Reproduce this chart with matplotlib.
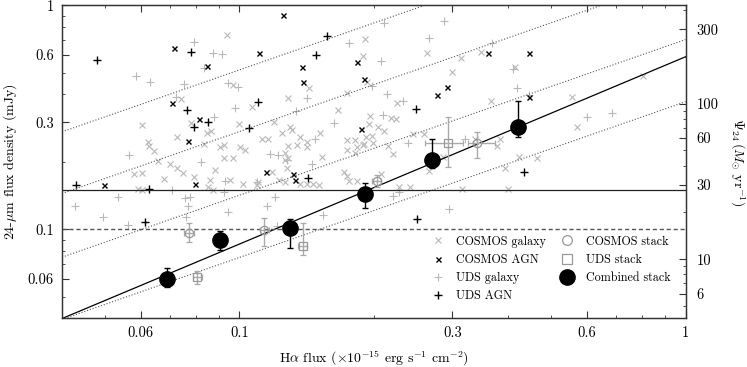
import matplotlib
matplotlib.use('Agg')
import matplotlib.pyplot as plt
import numpy as np
from matplotlib.ticker import FixedLocator, FixedFormatter, NullFormatter
from matplotlib.lines import Line2D

plt.rcParams['font.family'] = 'serif'
plt.rcParams['font.serif'] = ['cmr10']
plt.rcParams['mathtext.fontset'] = 'cm'
plt.rcParams['axes.unicode_minus'] = False
plt.rcParams['axes.formatter.use_mathtext'] = True

# COSMOS galaxies (Halpha flux, 24um flux)
cg_x = [0.0939, 0.0969, 0.0738, 0.1068, 0.0606, 0.0777, 0.0844, 0.0862, 0.0999, 0.1195,
        0.1287, 0.143, 0.1665, 0.1911, 0.1894, 0.174, 0.1298, 0.1313, 0.0725, 0.0623,
        0.0628, 0.0643, 0.0658, 0.0698, 0.0723, 0.0748, 0.0581, 0.0606, 0.0678, 0.0792,
        0.0859, 0.0881, 0.0952, 0.0904, 0.0925, 0.1003, 0.1029, 0.0925, 0.0966, 0.1121,
        0.116, 0.1243, 0.1287, 0.1344, 0.1367, 0.1415, 0.1515, 0.1415, 0.1265, 0.1287,
        0.1265, 0.1533, 0.174, 0.1816, 0.1832, 0.1894, 0.174, 0.1816, 0.1276, 0.1181,
        0.1228, 0.1102, 0.102, 0.1093, 0.1265, 0.1367, 0.1415, 0.1464, 0.151, 0.1718,
        0.174, 0.1763, 0.1832, 0.0593, 0.0604, 0.0851, 0.0874, 0.0833, 0.263, 0.3133,
        0.3475, 0.2992, 0.1934, 0.2252, 0.3658, 0.5566, 0.1961, 0.2183, 0.2243, 0.1954,
        0.2047, 0.2111, 0.1979, 0.1901, 0.1995, 0.2156, 0.2212, 0.2453, 0.2597, 0.3373,
        0.3784, 0.5721, 0.8045, 0.424, 0.4638, 0.3937, 0.2077, 0.2282, 0.2411, 0.3149,
        0.4005, 0.2661, 0.2864, 0.1921, 0.3837, 0.4147]
cg_y = [0.737, 0.441, 0.381, 0.350, 0.292, 0.299, 0.270, 0.276, 0.295, 0.300,
        0.384, 0.426, 0.341, 0.707, 0.596, 0.405, 0.285, 0.278, 0.258, 0.246,
        0.235, 0.224, 0.202, 0.195, 0.187, 0.179, 0.177, 0.179, 0.168, 0.171,
        0.166, 0.183, 0.166, 0.234, 0.237, 0.234, 0.226, 0.209, 0.209, 0.252,
        0.252, 0.268, 0.235, 0.238, 0.259, 0.246, 0.270, 0.234, 0.218, 0.208,
        0.204, 0.211, 0.250, 0.250, 0.234, 0.238, 0.226, 0.218, 0.188, 0.181,
        0.166, 0.163, 0.159, 0.158, 0.163, 0.159, 0.159, 0.159, 0.158, 0.181,
        0.173, 0.164, 0.165, 0.151, 0.149, 0.154, 0.150, 0.240, 0.614, 0.580,
        0.621, 0.505, 0.456, 0.367, 0.375, 0.388, 0.321, 0.313, 0.311, 0.295,
        0.285, 0.276, 0.261, 0.240, 0.242, 0.235, 0.217, 0.266, 0.266, 0.252,
        0.235, 0.285, 0.484, 0.211, 0.208, 0.187, 0.177, 0.155, 0.154, 0.151,
        0.152, 0.182, 0.211, 0.258, 0.252, 0.532]

# COSMOS AGN
ca_x = [0.0714, 0.0847, 0.125, 0.1104, 0.1379, 0.1834, 0.1386, 0.1905, 0.0706, 0.0811,
        0.1877, 0.0768, 0.1147, 0.1316, 0.1334, 0.0497, 0.0796, 0.360, 0.4457, 0.2777,
        0.2919, 0.4457]
ca_y = [0.643, 0.537, 0.905, 0.611, 0.532, 0.558, 0.453, 0.469, 0.367, 0.311,
        0.280, 0.249, 0.181, 0.176, 0.166, 0.158, 0.159, 0.614, 0.611, 0.398,
        0.430, 0.388]

# UDS galaxies
ug_x = [0.0791, 0.0874, 0.0912, 0.0834, 0.0586, 0.063, 0.0751, 0.0944, 0.0994, 0.0721,
        0.0977, 0.0877, 0.1415, 0.1337, 0.1632, 0.1763, 0.0565, 0.082, 0.0928, 0.1477,
        0.1171, 0.1222, 0.1452, 0.0705, 0.0925, 0.1276, 0.2109, 0.2878, 0.2665, 0.2077,
        0.3677, 0.4111, 0.1985, 0.2138, 0.233, 0.4183, 0.4464, 0.2101, 0.2391, 0.3203,
        0.6005, 0.6832, 0.0428, 0.0535, 0.0494, 0.0563, 0.0755, 0.0774, 0.0765, 0.0758,
        0.0944, 0.1151, 0.1201, 0.1212, 0.1536, 0.2212, 0.2282, 0.2954, 0.1093]
ug_y = [0.684, 0.611, 0.606, 0.523, 0.484, 0.453, 0.444, 0.448, 0.430, 0.391,
        0.347, 0.316, 0.384, 0.337, 0.299, 0.681, 0.215, 0.199, 0.165, 0.252,
        0.217, 0.215, 0.195, 0.149, 0.147, 0.204, 0.836, 0.851, 0.712, 0.566,
        0.677, 0.518, 0.436, 0.401, 0.374, 0.426, 0.398, 0.324, 0.244, 0.252,
        0.316, 0.332, 0.127, 0.139, 0.113, 0.104, 0.138, 0.140, 0.127, 0.113,
        0.119, 0.127, 0.140, 0.103, 0.116, 0.141, 0.146, 0.123, 0.163]

# UDS AGN
ua_x = [0.0478, 0.0777, 0.1574, 0.1487, 0.0761, 0.1102, 0.0851, 0.0791, 0.1048, 0.1422,
        0.043, 0.0626, 0.2487, 0.4339, 0.0614, 0.2496]
ua_y = [0.570, 0.621, 0.729, 0.600, 0.341, 0.369, 0.300, 0.285, 0.282, 0.169,
        0.157, 0.151, 0.344, 0.180, 0.108, 0.111]

# stacks
cs_x = [0.0771, 0.1137, 0.203, 0.3403]
cs_xlo = [0.0750, 0.1110, 0.198, 0.3258]
cs_xhi = [0.0790, 0.1165, 0.208, 0.3741]
cs_y = [0.0966, 0.0993, 0.1648, 0.242]
cs_ylo = [0.0875, 0.0842, 0.155, 0.2075]
cs_yhi = [0.1063, 0.1119, 0.1747, 0.2727]

us_x = [0.0804, 0.1386, 0.2939]
us_xlo = [0.0785, 0.135, 0.2606]
us_xhi = [0.0823, 0.142, 0.3175]
us_y = [0.0611, 0.0842, 0.242]
us_ylo = [0.057, 0.0768, 0.1903]
us_yhi = [0.0653, 0.107, 0.318]

comb_x = [0.0689, 0.0904, 0.130, 0.191, 0.270, 0.422]
comb_y = [0.0600, 0.0896, 0.1017, 0.143, 0.2032, 0.2853]
comb_ylo = [0.0551, 0.0808, 0.0823, 0.1245, 0.1872, 0.259]
comb_yhi = [0.0670, 0.098, 0.1108, 0.1614, 0.2522, 0.374]

# relations
fit_norm, fit_slope = 0.589, 0.836
ext_norms = [0.371, 0.703, 1.353, 2.55]
ext_slope = 0.695
s24_limit = 0.1
sfr_line = 0.149

xticks = [0.06, 0.1, 0.3, 0.6, 1]
yticks = [0.06, 0.1, 0.3, 0.6, 1]
sfr_ticks = [6, 10, 30, 60, 100, 300]

fig = plt.figure(figsize=(7.47, 3.67), dpi=100)
ax = fig.add_axes([62/747, (367-318.4)/367, 623.5/747, 313.1/367])
ax.set_xscale('log')
ax.set_yscale('log')

gray = '#b8b8b8'
ax.plot(cg_x, cg_y, 'x', ls='none', color=gray, ms=3.8, mew=0.8)
ax.plot(ug_x, ug_y, '+', ls='none', color=gray, ms=6, mew=0.8)
ax.plot(ca_x, ca_y, 'x', ls='none', color='k', ms=3.6, mew=1.0)
ax.plot(ua_x, ua_y, '+', ls='none', color='k', ms=6, mew=1.0)

xx = np.array([0.04, 1.0])
ax.plot(xx, fit_norm * xx**fit_slope, '-', color='k', lw=0.9)
for c in ext_norms:
    ax.plot(xx, c * xx**ext_slope, ':', color='#555555', lw=0.8)
ax.axhline(sfr_line, color='#222222', lw=0.9)
ax.axhline(s24_limit, color='#555555', lw=1.0, ls=(0, (3, 2)))

cs_x, cs_y, us_x, us_y = map(np.array, (cs_x, cs_y, us_x, us_y))
ax.errorbar(cs_x, cs_y,
            xerr=[cs_x - np.array(cs_xlo), np.array(cs_xhi) - cs_x],
            yerr=[cs_y - np.array(cs_ylo), np.array(cs_yhi) - cs_y],
            fmt='o', ms=6, mfc='none', mec='#999999', mew=0.9,
            ecolor='#aaaaaa', elinewidth=1.0, capsize=2.5, zorder=4)
ax.errorbar(us_x, us_y,
            xerr=[us_x - np.array(us_xlo), np.array(us_xhi) - us_x],
            yerr=[us_y - np.array(us_ylo), np.array(us_yhi) - us_y],
            fmt='s', ms=6, mfc='none', mec='#999999', mew=0.9,
            ecolor='#aaaaaa', elinewidth=1.0, capsize=2.5, zorder=4)
comb_y = np.array(comb_y)
ax.errorbar(comb_x, comb_y,
            yerr=[comb_y - np.array(comb_ylo), np.array(comb_yhi) - comb_y],
            fmt='o', ms=11, color='k', ecolor='k', elinewidth=1.0, capsize=2.5, zorder=5)

ax.set_xlim(0.04, 1)
ax.set_ylim(0.04, 1)
ax.xaxis.set_major_locator(FixedLocator(xticks))
ax.xaxis.set_major_formatter(FixedFormatter([f'{t:g}' for t in xticks]))
ax.yaxis.set_major_locator(FixedLocator(yticks))
ax.yaxis.set_major_formatter(FixedFormatter([f'{t:g}' for t in yticks]))
minor = [m * d for d in (0.01, 0.1) for m in range(1, 10)]
ax.xaxis.set_minor_locator(FixedLocator(minor))
ax.yaxis.set_minor_locator(FixedLocator(minor))
ax.xaxis.set_minor_formatter(NullFormatter())
ax.yaxis.set_minor_formatter(NullFormatter())
ax.tick_params(which='both', direction='in', top=True, right=False, labelsize=10.5, color='#333333')
ax.tick_params(which='major', length=5, pad=6)
ax.tick_params(which='minor', length=2.5)

ax2 = ax.twinx()
ax2.set_yscale('log')
ax2.set_ylim(4.17, 428)
ax2.yaxis.set_major_locator(FixedLocator(sfr_ticks))
ax2.yaxis.set_major_formatter(FixedFormatter([str(t) for t in sfr_ticks]))
ax2.yaxis.set_minor_locator(FixedLocator([m * d for d in (1, 10, 100) for m in range(1, 10)]))
ax2.yaxis.set_minor_formatter(NullFormatter())
ax2.tick_params(which='both', direction='in', labelsize=10.5, color='#333333')
ax2.tick_params(which='major', length=5, pad=8)
ax2.tick_params(which='minor', length=2.5)
ax2.set_ylabel(r'$\Psi_{24}\,(M_{\odot}$ yr$^{-1})$', rotation=270, fontsize=10, labelpad=20)

for a in (ax, ax2):
    for s in a.spines.values():
        s.set_color('#333333')
        s.set_linewidth(0.9)

ax.set_xlabel(r'H$\alpha$ flux ($\times 10^{-15}$ erg s$^{-1}$ cm$^{-2}$)', fontsize=10, labelpad=6)
ax.set_ylabel(r'24-$\mu$m flux density (mJy)', fontsize=10, labelpad=6)

handles = [
    Line2D([], [], ls='none', marker='x', color=gray, ms=3.8, mew=0.8),
    Line2D([], [], ls='none', marker='x', color='k', ms=3.6, mew=1.0),
    Line2D([], [], ls='none', marker='+', color=gray, ms=6, mew=0.8),
    Line2D([], [], ls='none', marker='+', color='k', ms=6, mew=1.0),
    Line2D([], [], ls='none', marker='o', mfc='none', mec='#999999', ms=7, mew=0.9),
    Line2D([], [], ls='none', marker='s', mfc='none', mec='#999999', ms=7, mew=0.9),
    Line2D([], [], ls='none', marker='o', color='k', ms=11),
]
labels = ['COSMOS galaxy', 'COSMOS AGN', 'UDS galaxy', 'UDS AGN',
          'COSMOS stack', 'UDS stack', 'Combined stack']
ax.legend(handles, labels, ncol=2, loc='upper left', bbox_to_anchor=(0.58, 0.28),
          frameon=False, fontsize=8.7, handlelength=1.5, handletextpad=0.8,
          columnspacing=1.0, labelspacing=0.5, borderaxespad=0)

fig.savefig('out.png', dpi=100)
